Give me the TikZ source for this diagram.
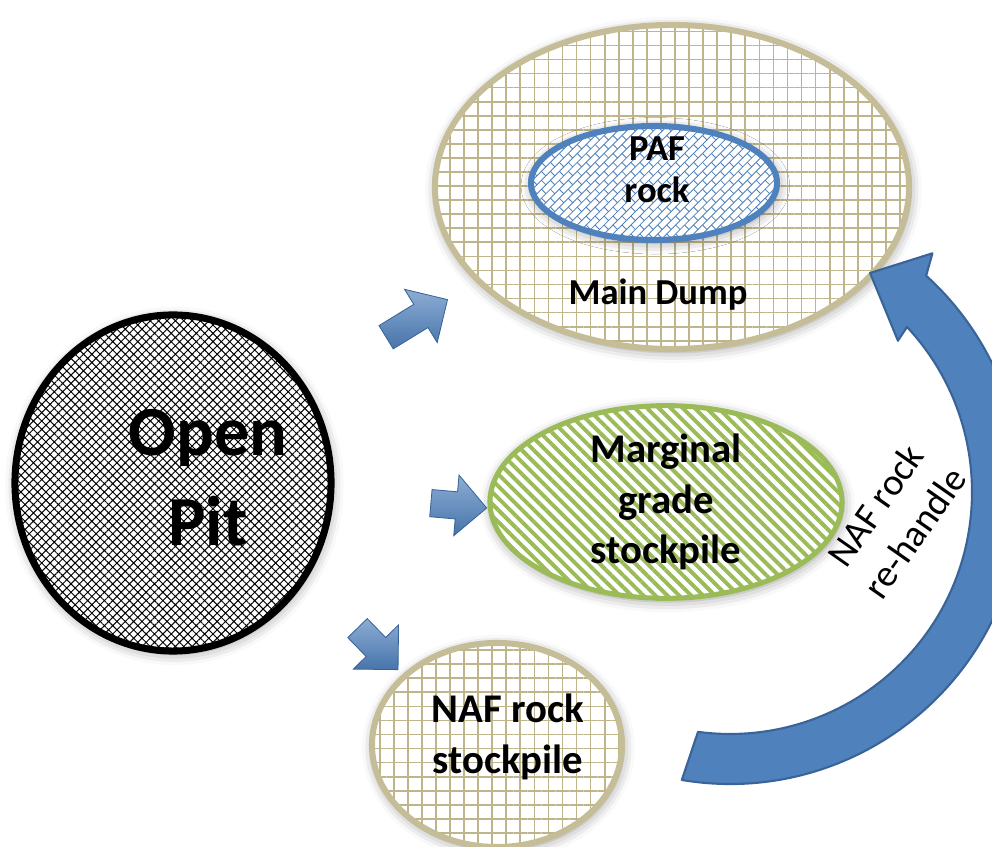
\documentclass[tikz,border=0pt]{standalone}
\usepackage{fontspec}
\setmainfont{Carlito}
\usetikzlibrary{calc,shapes.geometric,shapes.arrows,patterns.meta,shadows.blur}

\definecolor{pitblue}{RGB}{79,129,189}
\definecolor{pitblueedge}{RGB}{58,100,152}
\definecolor{dumptan}{RGB}{196,189,151}
\definecolor{gridtan}{RGB}{190,181,138}
\definecolor{margreen}{RGB}{155,187,89}

% brick fill of the PAF cell
\tikzdeclarepattern{
  name=bricks,
  type=uncolored,
  bottom left={(-.5pt,-.5pt)},
  top right={(9.5pt,9.5pt)},
  tile size={(9pt,9pt)},
  tile transformation={rotate=45},
  code={
    \draw[line width=.6pt] (0pt,0pt) -- (9pt,0pt)
      (0pt,4.5pt) -- (9pt,4.5pt)
      (0pt,0pt) -- (0pt,4.5pt)
      (4.5pt,4.5pt) -- (4.5pt,9pt);
  }
}

\begin{document}
\begin{tikzpicture}[
  x=0.025cm, y=0.025cm,
  soft/.style={blur shadow={shadow xshift=1pt, shadow yshift=-2pt, shadow blur radius=8pt, shadow opacity=40}},
  pit/.style={ellipse, soft, preaction={fill=white}, draw=black, line width=5pt,
    pattern={Hatch[angle=45,distance=4.2pt,line width=.7pt]}, pattern color=black,
    minimum width=7.9cm, minimum height=8.4cm, inner sep=0pt},
  dump/.style={ellipse, soft, preaction={fill=white}, draw=dumptan, line width=4.3pt,
    pattern={Hatch[angle=0,distance=10pt,line width=1.2pt]}, pattern color=gridtan,
    inner sep=0pt},
  paf/.style={ellipse, soft, preaction={fill=white}, draw=pitblue, line width=4.3pt,
    pattern=bricks, pattern color=pitblue, inner sep=0pt,
    minimum width=6.15cm, minimum height=2.85cm},
  marginal/.style={ellipse, soft, preaction={fill=white}, draw=margreen, line width=3.6pt,
    pattern={Lines[angle=-45,distance=6pt,line width=2.8pt]}, pattern color=margreen,
    inner sep=0pt, minimum width=8.8cm, minimum height=4cm, align=center,
    font=\fontsize{29}{36}\selectfont\bfseries},
  txt/.style={align=center, font=\fontsize{26}{30}\selectfont\bfseries},
  push/.style={single arrow, draw=pitblueedge, line width=.6pt,
    top color=pitblue!65!white, bottom color=pitblue!90!black,
    inner xsep=0pt, inner ysep=0.33cm},
  rehandle/.style={fill=pitblue, draw=pitblueedge, line width=1.5pt, line join=round},
]
  \useasboundingbox (0,0) rectangle (992,847);
  \clip (0,0) rectangle (992,847);

  % Destinations
  \node[dump, minimum width=11.85cm, minimum height=8.1cm] (dump) at (672,660) {};
  \node[paf] (paf) at (654,664) {};
  \node[txt] (paftxt) at ($(paf.center)+(3,13)$) {PAF\\rock};
  \node[txt] (dumptxt) at (658,552) {Main Dump};
  \node[marginal] (marg) at (666,345) {Marginal\\grade\\stockpile};
  \node[dump, minimum width=6.25cm, minimum height=5.1cm] (pile) at (497,102) {};
  \node[txt, font=\fontsize{29}{36}\selectfont\bfseries] (piletxt) at (508,110) {NAF rock\\stockpile};

  % Source
  \node[pit] (pit) at (173,364) {};
  \node[txt, font=\fontsize{50}{64}\selectfont\bfseries] (pittxt) at ($(pit.center)+(35,5)$) {Open\\Pit};

  % Haulage arrows
  \node[push, rotate=31.5, minimum height=1.8cm, single arrow head extend=0.44cm] (toDump) at (411,525) {};
  \node[push, rotate=-5, minimum height=1.4cm, single arrow head extend=0.42cm] (toMarg) at (452,342) {};
  \node[push, rotate=-45.7, minimum height=1.45cm, single arrow head extend=0.45cm] (toPile) at (373,203) {};

  % Re-handle from stockpile back to the dump
  \coordinate (hub) at (730,355);
  \draw[rehandle] ([shift={(-99.5:292)}]hub) arc[start angle=-99.5, end angle=47.8, radius=292]
    -- ([shift={(49.7:313)}]hub)
    -- ([shift={(57.4:260)}]hub)
    -- ([shift={(42:226)}]hub)
    -- ([shift={(43:242)}]hub)
    arc[start angle=43, end angle=-97.6, radius=242] -- cycle;
  \node[align=center, rotate=55, font=\fontsize{27}{34}\selectfont] (rehandletxt) at (895,328) {NAF rock\\re-handle};
\end{tikzpicture}
\end{document}
